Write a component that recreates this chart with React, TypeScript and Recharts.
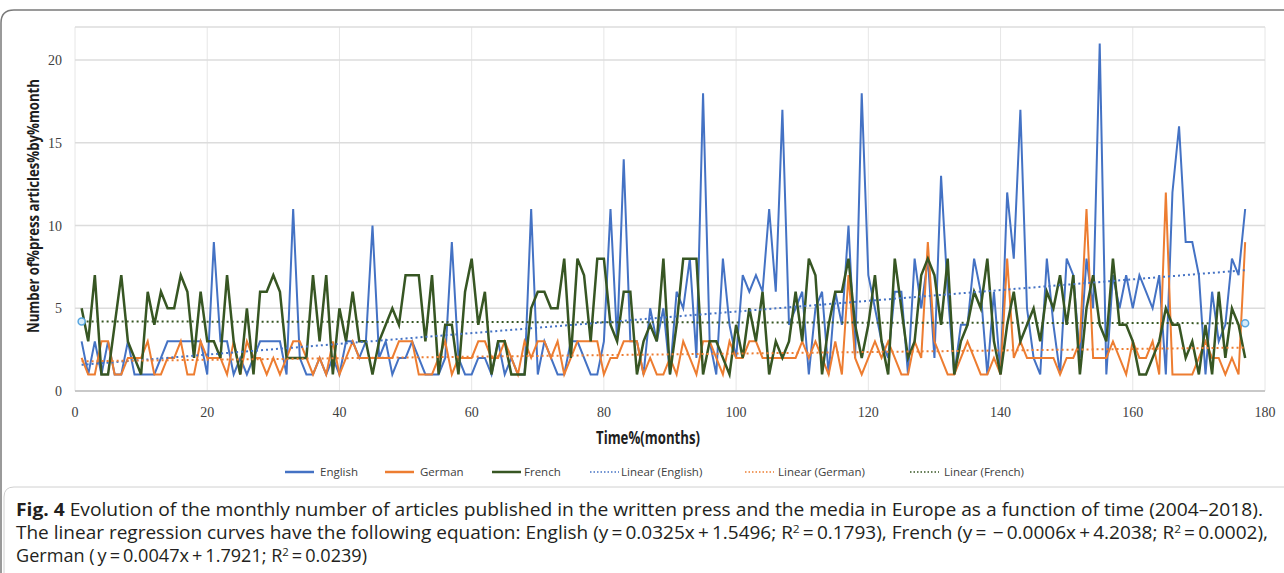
import React from "react";
import { LineChart, Line, XAxis, YAxis, CartesianGrid } from "recharts";

// monthly article counts, month 1 .. 177 (2004-2018)
const ENGLISH = [
  3, 1, 3, 1, 3, 1, 1, 3, 1, 1, 1, 1, 2, 3, 3, 3, 3, 3, 3, 1,
  9, 3, 3, 1, 2, 1, 2, 3, 3, 3, 3, 1, 11, 2, 1, 1, 2, 1, 2, 1,
  3, 3, 2, 3, 10, 2, 3, 1, 2, 2, 3, 2, 1, 1, 1, 2, 9, 2, 1, 1,
  2, 2, 1, 3, 1, 2, 1, 1, 11, 1, 3, 2, 1, 1, 3, 3, 2, 1, 1, 3,
  11, 3, 14, 3, 3, 1, 5, 3, 5, 1, 6, 5, 8, 2, 18, 3, 1, 8, 4, 2,
  7, 6, 7, 6, 11, 6, 17, 4, 5, 6, 1, 5, 6, 1, 6, 4, 10, 2, 18, 7,
  5, 3, 2, 6, 6, 1, 8, 5, 8, 2, 13, 6, 1, 4, 4, 8, 6, 1, 6, 1,
  12, 8, 17, 5, 2, 1, 8, 4, 1, 8, 7, 2, 8, 5, 21, 1, 7, 5, 7, 5,
  7, 6, 5, 7, 1, 12, 16, 9, 9, 7, 1, 6, 3, 4, 8, 7, 11,
];
const GERMAN = [
  2, 1, 1, 3, 3, 1, 1, 2, 2, 2, 3, 1, 1, 2, 2, 3, 1, 1, 3, 2,
  2, 2, 1, 3, 1, 3, 2, 2, 1, 2, 1, 2, 3, 3, 2, 1, 2, 1, 3, 1,
  2, 3, 2, 2, 2, 2, 2, 2, 3, 3, 3, 1, 1, 1, 2, 3, 1, 2, 2, 2,
  3, 3, 2, 2, 3, 2, 1, 3, 2, 3, 3, 2, 3, 1, 2, 3, 3, 3, 3, 1,
  2, 2, 3, 3, 3, 1, 2, 1, 1, 2, 1, 3, 2, 1, 3, 3, 2, 1, 3, 2,
  2, 3, 3, 2, 2, 2, 2, 2, 2, 3, 2, 3, 2, 1, 3, 1, 7, 2, 1, 2,
  3, 2, 3, 2, 1, 1, 3, 2, 9, 3, 2, 1, 1, 2, 3, 2, 1, 1, 2, 1,
  8, 2, 3, 2, 2, 2, 2, 2, 1, 2, 2, 3, 11, 2, 2, 2, 3, 2, 1, 3,
  2, 2, 3, 1, 12, 1, 1, 1, 1, 2, 3, 2, 2, 1, 2, 1, 9,
];
const FRENCH = [
  5, 3, 7, 1, 1, 4, 7, 3, 2, 1, 6, 4, 6, 5, 5, 7, 6, 2, 6, 3,
  3, 2, 7, 3, 1, 5, 1, 6, 6, 7, 6, 2, 2, 2, 2, 7, 3, 7, 1, 5,
  3, 6, 3, 3, 1, 3, 4, 5, 4, 7, 7, 7, 3, 7, 1, 4, 4, 1, 6, 8,
  4, 6, 1, 3, 3, 1, 1, 1, 5, 6, 6, 5, 5, 8, 2, 8, 7, 3, 8, 8,
  4, 3, 6, 6, 1, 3, 4, 3, 8, 1, 4, 8, 8, 8, 1, 3, 3, 2, 1, 4,
  2, 5, 3, 6, 1, 3, 2, 3, 6, 3, 8, 7, 1, 4, 6, 6, 8, 4, 2, 4,
  7, 3, 1, 8, 5, 2, 3, 7, 8, 7, 4, 8, 1, 3, 4, 6, 5, 8, 3, 1,
  4, 6, 3, 4, 5, 3, 6, 5, 7, 4, 7, 1, 5, 7, 4, 3, 8, 4, 4, 3,
  1, 1, 2, 3, 5, 4, 4, 2, 3, 1, 4, 1, 6, 2, 5, 4, 2,
];

// regression equations given in the caption: [slope, intercept]
const LIN_ENGLISH = [0.0325, 1.5496];
const LIN_GERMAN = [0.0047, 1.7921];
const LIN_FRENCH = [-0.0006, 4.2038];

const X_TICKS = [0, 20, 40, 60, 80, 100, 120, 140, 160, 180];
const Y_TICKS = [0, 5, 10, 15, 20];

const BLUE = "#4472c4";
const ORANGE = "#ed7d31";
const GREEN = "#375623";

const last = ENGLISH.length - 1;
const lin = (c: number[], m: number) => c[0] * m + c[1];

const data = ENGLISH.map((v, i) => {
  const m = i + 1;
  const end = i === 0 || i === last;
  return {
    m,
    english: v,
    german: GERMAN[i],
    french: FRENCH[i],
    linEnglish: end ? lin(LIN_ENGLISH, m) : null,
    linGerman: end ? lin(LIN_GERMAN, m) : null,
    linFrench: end ? lin(LIN_FRENCH, m) : null,
  };
});

const tickStyle = { fontFamily: "Liberation Serif", fontSize: 14, fill: "#404040" };

function EndHandle(props: any) {
  const { cx, cy, index } = props;
  if ((index !== 0 && index !== last) || cx == null) return <g key={index} />;
  return <circle key={index} cx={cx} cy={cy} r={3.5} fill="#d6ebfa" stroke="#5aa7e0" strokeWidth={1.5} />;
}

const LEGEND = [
  { label: "English", color: BLUE, x: 285, tx: 320, dotted: false },
  { label: "German", color: ORANGE, x: 385, tx: 420, dotted: false },
  { label: "French", color: GREEN, x: 492, tx: 524, dotted: false },
  { label: "Linear (English)", color: BLUE, x: 590, tx: 621, dotted: true },
  { label: "Linear (German)", color: ORANGE, x: 745, tx: 778, dotted: true },
  { label: "Linear (French)", color: GREEN, x: 910, tx: 944, dotted: true },
];

export default function App() {
  return (
    <div style={{ position: "absolute", left: 0, top: 0, width: 1284, height: 573, background: "#fff", overflow: "hidden" }}>
      <svg width={1284} height={573} style={{ position: "absolute", left: 0, top: 0 }}>
        {/* figure frame */}
        <path d="M1284 10 H14 Q1 10 1 23 V573" fill="none" stroke="#7a7a7a" strokeWidth={1.5} />
        <path d="M1284 487 H14 Q4 487 4 497 V573" fill="none" stroke="#d0d0d0" strokeWidth={1} />

        {/* axis titles */}
        <text
          x={39}
          y={206}
          transform="rotate(-90 39 206)"
          textAnchor="middle"
          fontFamily="Open Sans"
          fontWeight={700}
          fontSize={16.5}
          fill="#1e1e1e"
          textLength={254}
          lengthAdjust="spacingAndGlyphs"
        >
          Number of%press articles%by%month
        </text>
        <text
          x={648}
          y={444}
          textAnchor="middle"
          fontFamily="Open Sans"
          fontWeight={700}
          fontSize={17.5}
          fill="#1e1e1e"
          textLength={104}
          lengthAdjust="spacingAndGlyphs"
        >
          Time%(months)
        </text>

        {/* legend */}
        {LEGEND.map((l) => (
          <g key={l.label}>
            <line
              x1={l.x}
              x2={l.x + 29}
              y1={472}
              y2={472}
              stroke={l.color}
              strokeWidth={l.dotted ? 1.5 : 2.5}
              strokeDasharray={l.dotted ? "1.5 2" : undefined}
            />
            <text x={l.tx} y={476} fontFamily="Open Sans" fontSize={11.5} fill="#404040">
              {l.label}
            </text>
          </g>
        ))}

        {/* caption */}
        <g fontFamily="Open Sans" fontSize={17.5} fill="#231f20">
          <text x={16} y={516} textLength={1247} lengthAdjust="spacingAndGlyphs">
            <tspan fontWeight={700}>Fig. 4</tspan>
            {"  Evolution of the monthly number of articles published in the written press and the media in Europe as a function of time (2004\u20132018)."}
          </text>
          <text x={16} y={539} textLength={1252} lengthAdjust="spacingAndGlyphs">
            {"The linear regression curves have the following equation: English (y\u2009=\u20090.0325x\u2009+\u20091.5496; R"}
            <tspan dy={-6} fontSize={11}>2</tspan>
            <tspan dy={6}>{"\u2009=\u20090.1793), French (y\u2009=\u2009\u2009\u2212\u20090.0006x\u2009+\u20094.2038; R"}</tspan>
            <tspan dy={-6} fontSize={11}>2</tspan>
            <tspan dy={6}>{"\u2009=\u20090.0002),"}</tspan>
          </text>
          <text x={16} y={562} textLength={351} lengthAdjust="spacingAndGlyphs">
            {"German (\u2009y\u2009=\u20090.0047x\u2009+\u20091.7921; R"}
            <tspan dy={-6} fontSize={11}>2</tspan>
            <tspan dy={6}>{"\u2009=\u20090.0239)"}</tspan>
          </text>
        </g>
      </svg>

      <div style={{ position: "absolute", left: 0, top: 0 }}>
        <LineChart width={1284} height={460} data={data} margin={{ top: 27, right: 19, left: 0, bottom: 0 }}>
          <CartesianGrid horizontal={false} stroke="#e6e6e6" strokeWidth={1} />
          <CartesianGrid vertical={false} stroke="#dcdcdc" strokeWidth={1.5} />
          <XAxis
            dataKey="m"
            type="number"
            domain={[0, 180]}
            ticks={X_TICKS}
            height={69}
            tick={tickStyle}
            axisLine={{ stroke: "#bfbfbf", strokeWidth: 1.5 }}
            tickLine={false}
            tickMargin={10}
          />
          <YAxis
            type="number"
            domain={[0, 22]}
            ticks={Y_TICKS}
            width={75}
            tick={tickStyle}
            axisLine={false}
            tickLine={false}
            tickMargin={7}
          />
          <Line dataKey="english" stroke={BLUE} strokeWidth={2} dot={false} isAnimationActive={false} />
          <Line dataKey="german" stroke={ORANGE} strokeWidth={2} dot={false} isAnimationActive={false} />
          <Line dataKey="french" stroke={GREEN} strokeWidth={2.5} dot={false} isAnimationActive={false} />
          <Line dataKey="linEnglish" stroke={BLUE} strokeWidth={2} strokeDasharray="2 3" connectNulls dot={false} isAnimationActive={false} />
          <Line dataKey="linGerman" stroke={ORANGE} strokeWidth={2} strokeDasharray="2 3" connectNulls dot={false} isAnimationActive={false} />
          <Line dataKey="linFrench" stroke={GREEN} strokeWidth={2} strokeDasharray="2 3" connectNulls dot={EndHandle} isAnimationActive={false} />
        </LineChart>
      </div>
    </div>
  );
}
